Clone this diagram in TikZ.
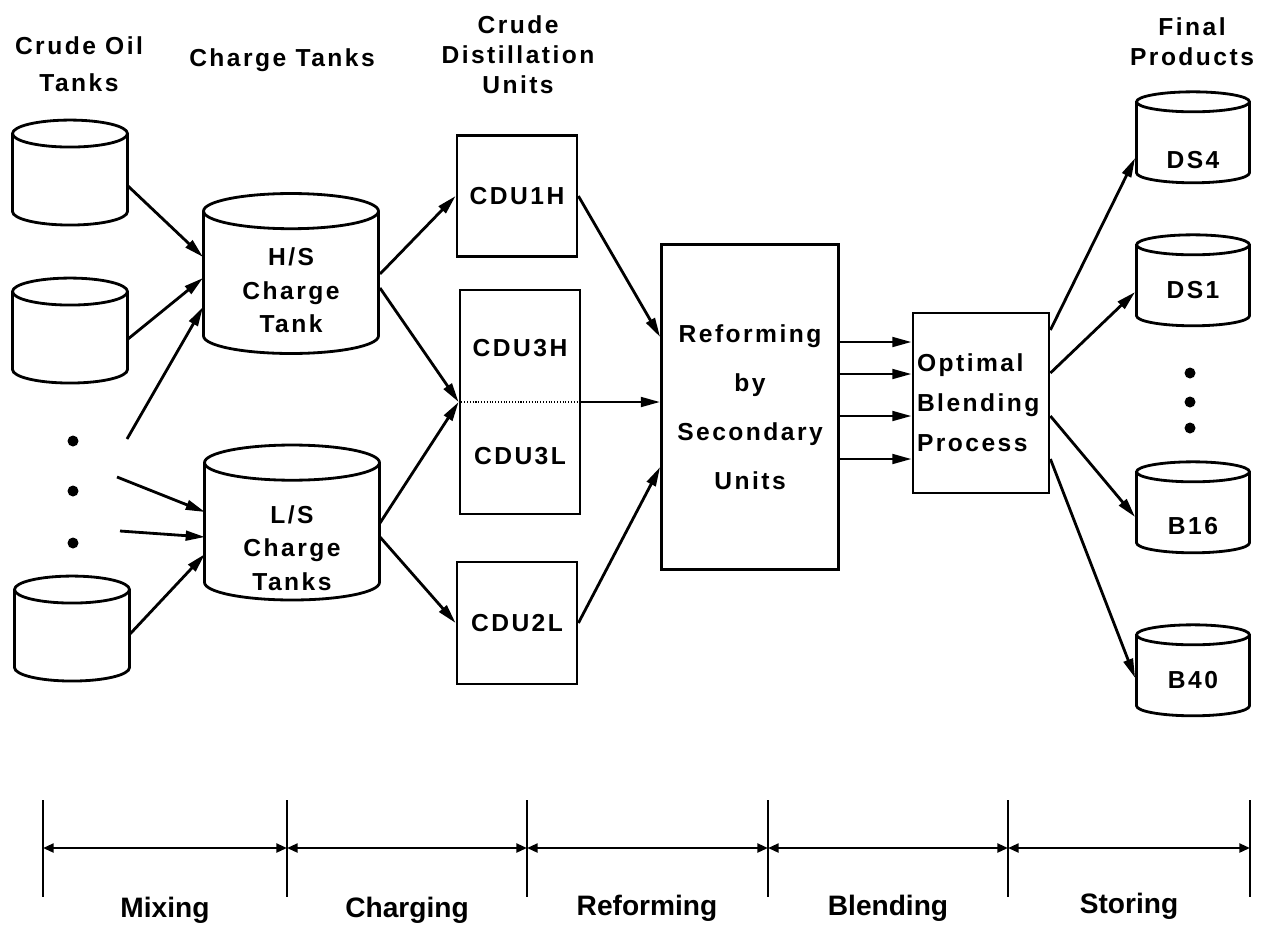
\documentclass[tikz,border=0pt]{standalone}
\usepackage{fontspec}
\setmainfont{Liberation Sans}
\newfontfamily\spacedfont[LetterSpace=10]{Liberation Sans}
\usetikzlibrary{shapes.geometric, arrows.meta, positioning, calc}
% text set lower inside a tank, without changing the tank's size
\newcommand\dropped[2]{\raisebox{#1}[0pt][0pt]{\begin{tabular}{@{}c@{}}#2\end{tabular}}}

\begin{document}
\begin{tikzpicture}[
    x=0.02cm, y=-0.02cm,
    lbl/.style={align=center, font=\spacedfont\bfseries\fontsize{14}{17}\selectfont},
    tank/.style={cylinder, shape border rotate=90, draw, line width=1.6pt, lbl, inner sep=0pt},
    crude/.style={tank, aspect=0.27, text width=2cm, minimum width=2.3cm, minimum height=2.1cm},
    charge/.style={tank, aspect=0.22, text width=3.2cm, minimum width=3.5cm, font=\spacedfont\bfseries\fontsize{14}{19}\selectfont},
    product/.style={tank, aspect=0.2, text width=2cm, minimum width=2.26cm, minimum height=1.82cm},
    unit/.style={rectangle, draw, line width=1.6pt, lbl, inner sep=0pt},
    dot/.style={circle, fill, minimum size=0.22cm, inner sep=0pt},
    arr/.style={-{Triangle[length=11pt, width=5.5pt]}, line width=1.6pt},
    stage/.style={font=\bfseries\fontsize{16}{19}\selectfont},
    tick/.style={line width=1.1pt},
    span/.style={{Triangle[length=6pt, width=5pt]}-{Triangle[length=6pt, width=5pt]}, line width=1.4pt},
]
    \useasboundingbox (0,0) rectangle (1270,931);

    % Column headings
    \node[lbl] (hcrude) at (79,64) {Crude Oil\\[4pt]Tanks};
    \node[lbl] (hcharge) at (282,60) {Charge Tanks};
    \node[lbl] (hcdu) at (518,55) {Crude\\Distillation\\Units};
    \node[lbl] (hfinal) at (1192,42) {Final\\Products};

    % Crude oil tanks
    \node[crude] (ct1) at (70,180) {\phantom{X}};
    \node[crude] (ct2) at (70,338) {\phantom{X}};
    \node[crude] (ct3) at (72,636) {\phantom{X}};
    \node[dot] (dA) at (73,441) {};
    \node[dot] (dB) at (73,491) {};
    \node[dot] (dC) at (73,543) {};
    \coordinate (fA) at (127,439);
    \coordinate (fB) at (117,477);
    \coordinate (fC) at (120,531);

    % Charge tanks
    \node[charge, minimum height=3.2cm] (hs) at (291,283) {\dropped{-9pt}{H/S\\Charge\\Tank}};
    \node[charge, minimum height=3.1cm] (ls) at (292,532) {\dropped{-14pt}{L/S\\Charge\\Tanks}};

    % Crude distillation units
    \node[unit, minimum width=2.4cm, minimum height=2.42cm] (cdu1h) at (517,196) {CDU1H};
    \node[unit, minimum width=2.4cm, minimum height=4.48cm] (cdu3) at (520,402) {CDU3H\\[44pt]CDU3L};
    \node[unit, minimum width=2.4cm, minimum height=2.44cm] (cdu2l) at (517,623) {CDU2L};
    \draw[densely dotted, line width=0.6pt] (cdu3.west) -- (cdu3.east);

    % Secondary units and blending
    \node[unit, minimum width=3.54cm, minimum height=6.5cm, font=\spacedfont\bfseries\fontsize{14}{28}\selectfont] (reform) at (750,407) {Reforming\\by\\Secondary\\Units};
    \node[unit, minimum width=2.72cm, minimum height=3.6cm, text width=2.56cm, align=left, font=\spacedfont\bfseries\fontsize{14}{22.7}\selectfont] (opt) at (981,403) {Optimal\\Blending\\Process};

    % Final products
    \node[product] (ds4) at (1193,143) {\dropped{-14.7pt}{DS4}};
    \node[product] (ds1) at (1193,286) {\dropped{-7.4pt}{DS1}};
    \node[product] (b16) at (1193,513) {\dropped{-12.5pt}{B16}};
    \node[product] (b40) at (1193,676) {\dropped{-7.4pt}{B40}};
    \node[dot] (dD) at (1190,373) {};
    \node[dot] (dE) at (1190,402) {};
    \node[dot] (dF) at (1190,428) {};

    % Mixing
    \draw[arr] ($(ct1.center)+(58,6)$) -- ($(hs.center)+(-88,-26)$);
    \draw[arr] ($(ct2.center)+(58,1)$) -- ($(hs.center)+(-88,-5)$);
    \draw[arr] (fA) -- ($(hs.center)+(-88,24)$);
    \draw[arr] (fB) -- ($(ls.center)+(-87,-20)$);
    \draw[arr] (fC) -- ($(ls.center)+(-87,5)$);
    \draw[arr] ($(ct3.center)+(58,-2)$) -- ($(ls.center)+(-87,22)$);

    % Charging
    \draw[arr] ($(hs.center)+(89,-9)$) -- (cdu1h.west);
    \draw[arr] ($(hs.center)+(89,5)$) -- (cdu3.west);
    \draw[arr] ($(ls.center)+(88,-9)$) -- (cdu3.west);
    \draw[arr] ($(ls.center)+(88,5)$) -- (cdu2l.west);

    % Reforming
    \draw[arr] (cdu1h.east) -- ($(reform.west)+(0,-70)$);
    \draw[arr] (cdu3.east) -- (cdu3.east -| reform.west);
    \draw[arr] (cdu2l.east) -- ($(reform.west)+(0,60)$);

    % Blending
    \foreach \dy in {-65,-33,9,52}
        \draw[arr] ($(reform.east)+(0,\dy)$) coordinate (s) -- (s -| opt.west);

    % Storing
    \draw[arr] ($(opt.east)+(0,-73)$) -- ($(ds4.west)+(0,15)$);
    \draw[arr] ($(opt.east)+(0,-30)$) -- ($(ds1.west)+(0,6)$);
    \draw[arr] ($(opt.east)+(0,13)$) -- ($(b16.west)+(0,4)$);
    \draw[arr] ($(opt.east)+(0,56)$) -- ($(b40.west)+(0,2)$);

    % Stage scale
    \foreach \x [count=\i] in {43,287,527,768,1008,1250} {
        \draw[tick] (\x,800) -- (\x,897);
        \coordinate (t\i) at (\x,848);
    }
    \foreach \a/\b in {1/2,2/3,3/4,4/5,5/6}
        \draw[span] (t\a) -- (t\b);
    \node[stage] (sMix) at (165,910) {Mixing};
    \node[stage] (sCharge) at (407,910) {Charging};
    \node[stage] (sReform) at (647,908) {Reforming};
    \node[stage] (sBlend) at (888,908) {Blending};
    \node[stage] (sStore) at (1129,906) {Storing};
\end{tikzpicture}
\end{document}
